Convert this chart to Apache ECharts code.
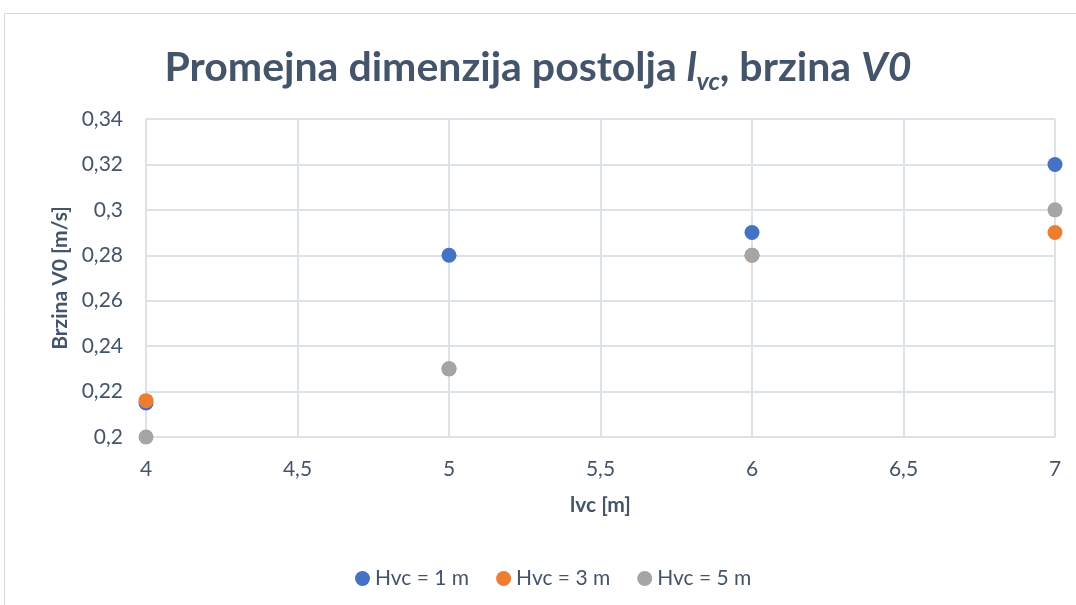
<!DOCTYPE html>
<html>
<head>
<meta charset="utf-8">
<script src="https://cdn.jsdelivr.net/npm/echarts@6/dist/echarts.min.js"></script>
<style>
  html, body { margin: 0; padding: 0; background: #fff; }
  #chart { width: 1076px; height: 605px; }
</style>
</head>
<body>
<div id="chart"></div>
<script>
// Foundation length lvc [m] on the x axis, velocity V0 [m/s] on the y axis
const lvc = [4, 5, 6, 7];
const hvc1 = [0.215, 0.28, 0.29, 0.32];
const hvc3 = [0.216, 0.23, 0.28, 0.29];
const hvc5 = [0.20, 0.23, 0.28, 0.30];
const seriesNames = ['Hvc = 1 m', 'Hvc = 3 m', 'Hvc = 5 m'];
const seriesColors = ['#4472C4', '#ED7D31', '#A5A5A5'];

const FONT = 'Lato, "Open Sans", sans-serif';
const TEXT = '#44546A';
const comma = v => String(v).replace('.', ',');
const pairs = ys => lvc.map((x, i) => [x, ys[i]]);

const chart = echarts.init(document.getElementById('chart'), null, { renderer: 'canvas' });

chart.setOption({
  backgroundColor: '#fff',
  animation: false,
  textStyle: { fontFamily: FONT },
  graphic: [{
    type: 'rect',
    shape: { x: 4.5, y: 13.5, width: 1200, height: 800 },
    style: { fill: 'none', stroke: '#D9D9D9', lineWidth: 1 },
    silent: true
  }],
  title: {
    left: 'center',
    top: 37,
    text: '{a|Promejna dimenzija postolja }{i|l}{s|vc}{a|, brzina }{i|V0}',
    textStyle: {
      rich: {
        a: { fontFamily: FONT, fontSize: 41, fontWeight: 'bold', color: TEXT, lineHeight: 52 },
        i: { fontFamily: FONT, fontSize: 41, fontWeight: 'bold', fontStyle: 'italic', color: TEXT, lineHeight: 52 },
        s: { fontFamily: FONT, fontSize: 25, fontWeight: 'bold', fontStyle: 'italic', color: TEXT, verticalAlign: 'bottom', lineHeight: 36, padding: [18, 0, 0, 0] }
      }
    }
  },
  legend: {
    bottom: 16,
    left: 355,
    padding: 0,
    icon: 'circle',
    itemWidth: 15,
    itemHeight: 15,
    itemGap: 27,
    textStyle: { fontFamily: FONT, fontSize: 21, color: TEXT },
    data: seriesNames
  },
  grid: { left: 146, right: 21, top: 119, bottom: 168 },
  xAxis: {
    type: 'value',
    min: 4, max: 7, interval: 0.5,
    name: 'lvc [m]',
    nameLocation: 'middle',
    nameGap: 58,
    nameTextStyle: { fontFamily: FONT, fontSize: 21, fontWeight: 'bold', color: TEXT },
    axisLine: { show: false },
    axisTick: { show: false },
    axisLabel: { fontFamily: FONT, fontSize: 21, color: TEXT, margin: 22, formatter: comma },
    splitLine: { show: true, lineStyle: { color: '#DDE1E8', width: 2 } }
  },
  yAxis: {
    type: 'value',
    min: 0.2, max: 0.34, interval: 0.02,
    name: 'Brzina V0 [m/s]',
    nameLocation: 'middle',
    nameGap: 73,
    nameTextStyle: { fontFamily: FONT, fontSize: 21, fontWeight: 'bold', color: TEXT },
    axisLine: { show: false },
    axisTick: { show: false },
    axisLabel: { fontFamily: FONT, fontSize: 21, color: TEXT, margin: 23, formatter: v => comma(+v.toFixed(2)) },
    splitLine: { show: true, lineStyle: { color: '#DDE1E8', width: 2 } }
  },
  series: [hvc1, hvc3, hvc5].map((ys, k) => ({
    name: seriesNames[k],
    type: 'scatter',
    symbol: 'circle',
    symbolSize: 15,
    itemStyle: { color: seriesColors[k], opacity: 1 },
    data: pairs(ys),
    z: 2 + k
  }))
});
</script>
</body>
</html>
